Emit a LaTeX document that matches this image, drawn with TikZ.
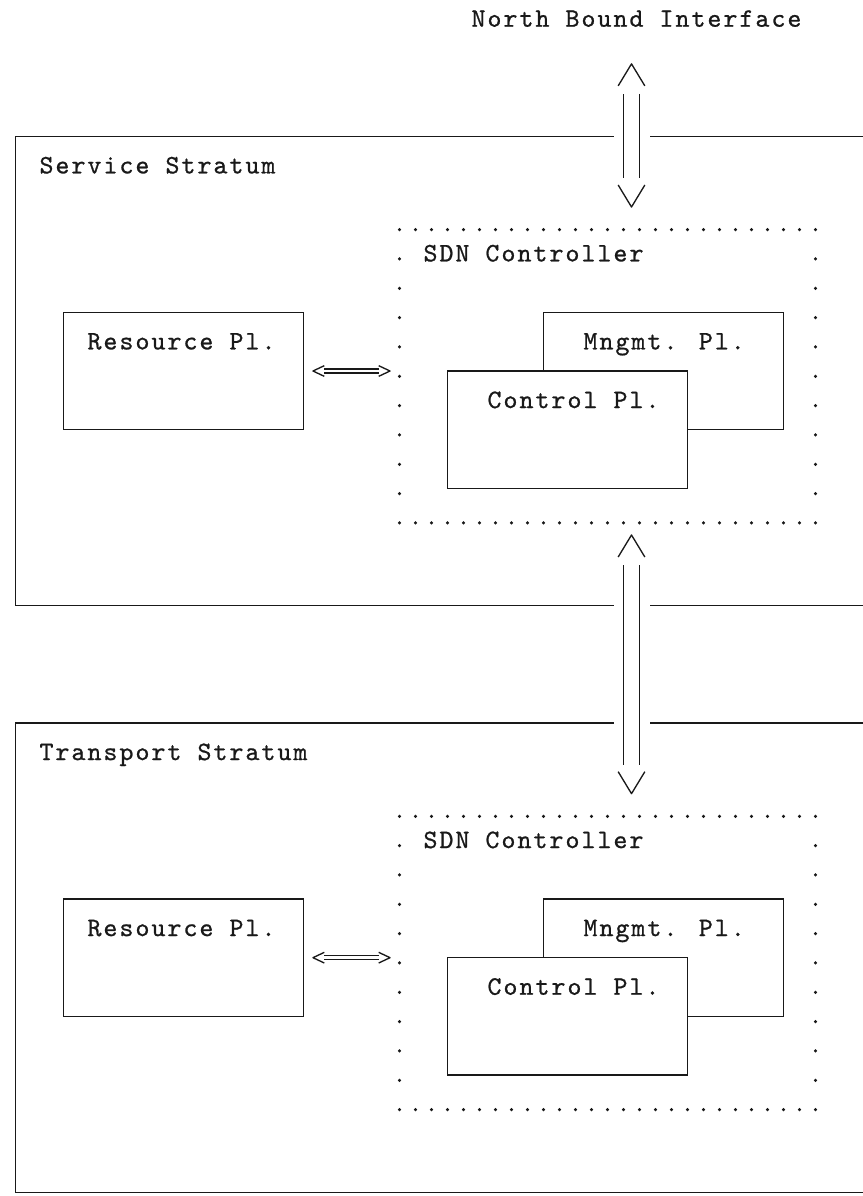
\documentclass[tikz,border=0pt]{standalone}
\usepackage{fontspec}
\newfontfamily\lmmono[LetterSpace=7.5, FakeBold=0.8]{lmmono10-regular.otf}
\newcommand{\asciifont}{\lmmono\fontsize{20pt}{22pt}\selectfont}

\begin{document}
\begin{tikzpicture}[x=12pt,y=-22pt,
    ink/.style={draw=black!90, line width=1pt},
    plane/.style 2 args={ink, rectangle, inner sep=0pt, outer sep=0pt,
        minimum width=#1*12pt, minimum height=#2*22pt},
    txt/.style={anchor=base west, inner sep=0pt, outer sep=0pt,
        font=\asciifont, text=black!90, yshift=-5.8pt},
    gap/.style={draw=white, line width=27pt},
    bars/.style={ink, double=white, double distance=11pt},
    eqline/.style={ink, line width=0.8pt, double=white, double distance=2.2pt},
    chev/.style={ink, line join=round}]
\useasboundingbox (-0.96875,-0.6478) rectangle (52.96875,40.125);

\node[txt] (nbi) at (28.5,0) {North Bound Interface};

\foreach \s/\stname/\dy in {srv/Service/0, trn/Transport/20}{
    % stratum
    \node[plane={53}{16}] (str\s) at (26.5,12+\dy) {};
    \node[txt] (strlbl\s) at (1.5,5+\dy) {\stname\ Stratum};
    % sdn controller, dotted
    \node[inner sep=0pt, outer sep=0pt, minimum width=26*12pt,
        minimum height=10*22pt] (sdn\s) at (37,12+\dy) {};
    \foreach \cc in {24,...,50}{
        \fill[black!90] (\cc,7.18+\dy) circle (1.3pt);
        \fill[black!90] (\cc,17.18+\dy) circle (1.3pt);
    }
    \foreach \rr in {8,...,16}{
        \fill[black!90] (24,\rr+0.18+\dy) circle (1.3pt);
        \fill[black!90] (50,\rr+0.18+\dy) circle (1.3pt);
    }
    \node[txt] (sdnlbl\s) at (25.5,8+\dy) {SDN Controller};
    % planes
    \node[plane={15}{4}] (rsrc\s) at (10.5,12+\dy) {};
    \node[txt] (rsrclbl\s) at (4.5,11+\dy) {Resource Pl.};
    \node[plane={15}{4}] (mgmt\s) at (40.5,12+\dy) {};
    \node[txt] (mgmtlbl\s) at (35.5,11+\dy) {Mngmt. Pl.};
    \node[plane={15}{4}, fill=white] (ctrl\s) at (34.5,14+\dy) {};
    \node[txt] (ctrllbl\s) at (29.5,13+\dy) {Control Pl.};
    % <===>
    \coordinate (eqL\s) at ([xshift=7.1pt]rsrc\s.east);
    \coordinate (eqR\s) at ([xshift=-7.1pt]sdn\s.west);
    \draw[eqline] ([xshift=8.5pt]eqL\s) -- ([xshift=-8.5pt]eqR\s);
    \draw[chev] ([shift={(8.5pt,4pt)}]eqL\s) -- (eqL\s) -- ([shift={(8.5pt,-4pt)}]eqL\s);
    \draw[chev] ([shift={(-8.5pt,4pt)}]eqR\s) -- (eqR\s) -- ([shift={(-8.5pt,-4pt)}]eqR\s);
}

% interfaces between strata
\coordinate (nbiT) at (38.5,1.53);
\coordinate (nbiB) at ([yshift=13pt]sdnsrv.north -| nbiT);
\coordinate (midT) at ([yshift=-13pt]sdnsrv.south -| nbiT);
\coordinate (midB) at ([yshift=13pt]sdntrn.north -| nbiT);

\foreach \a/\b in {nbiT/nbiB, midT/midB}{
    \draw[gap] ([yshift=-22.5pt]\a) -- ([yshift=21.75pt]\b);
    \draw[bars] ([yshift=-22.5pt]\a) -- ([yshift=21.75pt]\b);
    \draw[chev] ([shift={(-10pt,-16.5pt)}]\a) -- (\a) -- ([shift={(10pt,-16.5pt)}]\a);
    \draw[chev] ([shift={(-10pt,16.5pt)}]\b) -- (\b) -- ([shift={(10pt,16.5pt)}]\b);
}
\end{tikzpicture}
\end{document}
